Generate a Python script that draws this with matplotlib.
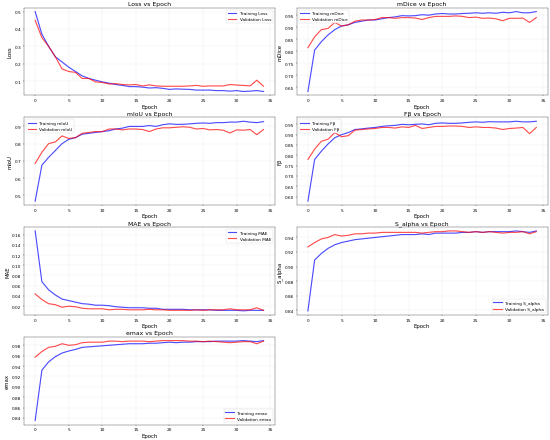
import matplotlib
matplotlib.use("Agg")
import matplotlib.pyplot as plt
import numpy as np

epochs = list(range(35))

train_loss = [0.50, 0.37, 0.30, 0.24, 0.21, 0.18, 0.155, 0.13, 0.115, 0.105, 0.095, 0.088, 0.08, 0.075, 0.068, 0.068, 0.065, 0.06, 0.062, 0.058, 0.052, 0.055, 0.053, 0.052, 0.048, 0.048, 0.048, 0.045, 0.045, 0.042, 0.045, 0.04, 0.042, 0.045, 0.04]
val_loss = [0.45, 0.35, 0.30, 0.24, 0.17, 0.155, 0.15, 0.115, 0.115, 0.095, 0.092, 0.083, 0.085, 0.08, 0.078, 0.08, 0.072, 0.078, 0.072, 0.07, 0.07, 0.07, 0.07, 0.072, 0.075, 0.07, 0.072, 0.072, 0.072, 0.08, 0.077, 0.075, 0.072, 0.105, 0.07]

train_mdice = [0.633, 0.805, 0.84, 0.868, 0.89, 0.905, 0.91, 0.92, 0.925, 0.93, 0.93, 0.935, 0.94, 0.943, 0.948, 0.947, 0.948, 0.952, 0.95, 0.955, 0.957, 0.955, 0.955, 0.957, 0.958, 0.96, 0.958, 0.96, 0.958, 0.962, 0.96, 0.965, 0.96, 0.96, 0.965]
val_mdice = [0.815, 0.86, 0.89, 0.895, 0.92, 0.905, 0.91, 0.925, 0.93, 0.93, 0.932, 0.94, 0.94, 0.937, 0.94, 0.94, 0.938, 0.932, 0.94, 0.945, 0.945, 0.945, 0.947, 0.945, 0.94, 0.942, 0.937, 0.938, 0.935, 0.927, 0.937, 0.937, 0.938, 0.92, 0.94]

train_miou = [0.466, 0.675, 0.72, 0.76, 0.80, 0.825, 0.835, 0.855, 0.86, 0.865, 0.87, 0.875, 0.885, 0.89, 0.9, 0.9, 0.9, 0.905, 0.9, 0.91, 0.915, 0.912, 0.912, 0.915, 0.918, 0.92, 0.918, 0.922, 0.922, 0.925, 0.925, 0.93, 0.925, 0.922, 0.928]
val_miou = [0.685, 0.75, 0.80, 0.81, 0.845, 0.83, 0.835, 0.86, 0.865, 0.87, 0.87, 0.885, 0.885, 0.88, 0.885, 0.885, 0.882, 0.87, 0.885, 0.892, 0.892, 0.895, 0.898, 0.895, 0.885, 0.888, 0.88, 0.882, 0.878, 0.862, 0.88, 0.878, 0.882, 0.852, 0.882]

train_fb = [0.578, 0.78, 0.82, 0.855, 0.885, 0.9, 0.91, 0.925, 0.928, 0.932, 0.935, 0.94, 0.943, 0.945, 0.95, 0.948, 0.95, 0.952, 0.948, 0.955, 0.957, 0.955, 0.955, 0.957, 0.96, 0.962, 0.96, 0.963, 0.962, 0.962, 0.962, 0.965, 0.962, 0.962, 0.965]
val_fb = [0.78, 0.83, 0.868, 0.878, 0.91, 0.89, 0.895, 0.922, 0.925, 0.928, 0.93, 0.935, 0.935, 0.932, 0.938, 0.935, 0.945, 0.93, 0.935, 0.94, 0.94, 0.942, 0.942, 0.94, 0.935, 0.938, 0.935, 0.935, 0.932, 0.925, 0.93, 0.932, 0.935, 0.905, 0.935]

train_mae = [0.167, 0.068, 0.052, 0.042, 0.034, 0.031, 0.028, 0.025, 0.024, 0.022, 0.022, 0.021, 0.019, 0.018, 0.017, 0.017, 0.017, 0.016, 0.016, 0.014, 0.014, 0.014, 0.014, 0.013, 0.013, 0.013, 0.013, 0.012, 0.012, 0.012, 0.012, 0.011, 0.012, 0.012, 0.012]
val_mae = [0.044, 0.033, 0.025, 0.023, 0.018, 0.02, 0.019, 0.016, 0.015, 0.015, 0.015, 0.013, 0.014, 0.014, 0.013, 0.013, 0.013, 0.014, 0.013, 0.013, 0.012, 0.012, 0.012, 0.012, 0.013, 0.012, 0.013, 0.013, 0.013, 0.015, 0.013, 0.013, 0.013, 0.017, 0.012]

train_salpha = [0.839, 0.909, 0.918, 0.925, 0.93, 0.933, 0.935, 0.937, 0.938, 0.939, 0.94, 0.941, 0.942, 0.943, 0.944, 0.944, 0.944, 0.945, 0.944, 0.946, 0.946, 0.946, 0.946, 0.947, 0.947, 0.948, 0.947, 0.948, 0.948, 0.948, 0.948, 0.949, 0.948, 0.947, 0.949]
val_salpha = [0.927, 0.933, 0.938, 0.94, 0.944, 0.942, 0.943, 0.945, 0.945, 0.946, 0.946, 0.947, 0.947, 0.947, 0.947, 0.947, 0.947, 0.946, 0.947, 0.948, 0.948, 0.949, 0.949, 0.948, 0.947, 0.948, 0.947, 0.948, 0.947, 0.946, 0.947, 0.947, 0.948, 0.945, 0.948]

train_emax = [0.835, 0.932, 0.948, 0.958, 0.965, 0.969, 0.972, 0.976, 0.977, 0.978, 0.979, 0.98, 0.981, 0.982, 0.983, 0.983, 0.983, 0.984, 0.984, 0.985, 0.986, 0.985, 0.986, 0.986, 0.987, 0.987, 0.987, 0.988, 0.988, 0.988, 0.988, 0.989, 0.988, 0.987, 0.989]
val_emax = [0.957, 0.968, 0.976, 0.978, 0.983, 0.98, 0.981, 0.985, 0.986, 0.986, 0.986, 0.988, 0.988, 0.987, 0.988, 0.988, 0.988, 0.987, 0.988, 0.989, 0.989, 0.989, 0.989, 0.988, 0.988, 0.987, 0.988, 0.987, 0.986, 0.985, 0.986, 0.987, 0.987, 0.983, 0.988]

metrics = ["Loss", "mDice", "mIoU", "Fβ", "MAE", "S_alpha", "emax"]
train_series = [train_loss, train_mdice, train_miou, train_fb, train_mae, train_salpha, train_emax]
val_series = [val_loss, val_mdice, val_miou, val_fb, val_mae, val_salpha, val_emax]
legend_locs = ["upper right", "upper left", "upper left", "upper left", "upper right", "lower right", "lower right"]

DPI = 27.5
fig, axes = plt.subplots(4, 2, figsize=(20, 441 / DPI), dpi=DPI)
axes = axes.flatten()
for i, name in enumerate(metrics):
    ax = axes[i]
    ax.plot(epochs, train_series[i], color="blue", alpha=0.7, linewidth=3, label=f"Training {name}")
    ax.plot(epochs, val_series[i], color="red", alpha=0.7, linewidth=3, label=f"Validation {name}")
    ax.set_title(f"{name} vs Epoch", fontsize=16)
    ax.set_xlabel("Epoch", fontsize=14)
    ax.set_ylabel(name, fontsize=14)
    ax.tick_params(labelsize=11)
    ax.grid(True, alpha=0.3)
    ax.legend(loc=legend_locs[i], fontsize=11)
axes[7].remove()
fig.tight_layout(pad=0.6)
fig.savefig("out.png", dpi=DPI)
